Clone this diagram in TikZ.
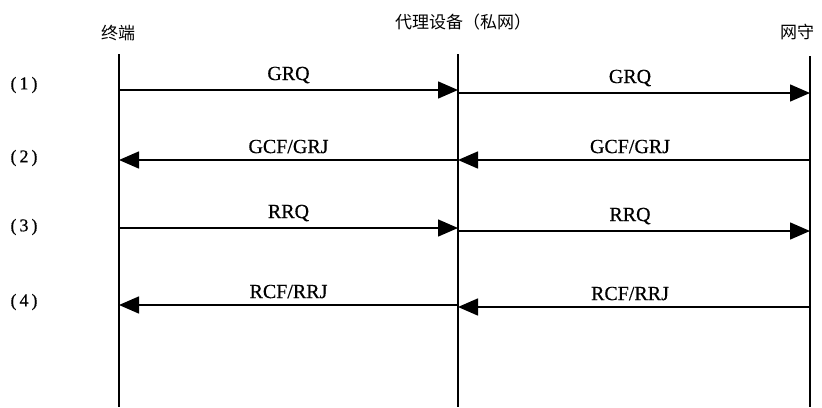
\documentclass[tikz,border=0pt]{standalone}
\usepackage{fontspec}
\setmainfont{Liberation Serif}[FakeBold=0.5,BoldFont={Liberation Serif}]
\newfontfamily\cjk{Noto Sans CJK SC}
\usetikzlibrary{arrows.meta}
\begin{document}
\begin{tikzpicture}[x=1pt,y=-1pt,
  life/.style={line width=1.5pt},
  msg/.style={line width=1.5pt,-{Triangle[length=20pt,width=17pt]}},
  lbl/.style={above=5pt,font=\bfseries\fontsize{20}{22}\selectfont,inner sep=1pt},
  hdr/.style={font=\cjk\fontsize{17}{19}\selectfont,inner sep=0pt},
  stepnum/.style={font=\bfseries\fontsize{18}{20}\selectfont,inner sep=0pt}]
\useasboundingbox (0,0) rectangle (822,407);
% headers
\node[hdr] (hA) at (118,33) {终端};
\node[hdr] (hB) at (463,22) {代理设备（私网）};
\node[hdr] (hC) at (797,32) {网守};
% lifelines
\coordinate (At) at (119,54); \coordinate (Ab) at (119,407);
\coordinate (Bt) at (458,54); \coordinate (Bb) at (458,407);
\coordinate (Ct) at (810,56); \coordinate (Cb) at (810,407);
\draw[life] (At) -- (Ab);
\draw[life] (Bt) -- (Bb);
\draw[life] (Ct) -- (Cb);
% step numbers
\node[stepnum] (s1) at (24,85) {(\,1\,)};
\node[stepnum] (s2) at (24,158) {(\,2\,)};
\node[stepnum] (s3) at (24,227) {(\,3\,)};
\node[stepnum] (s4) at (24,302) {(\,4\,)};
% message endpoints
\coordinate (A1) at (119,90);  \coordinate (B1l) at (458,90);
\coordinate (B1r) at (458,93); \coordinate (C1) at (810,93);
\coordinate (A2) at (119,160); \coordinate (B2) at (458,160);
\coordinate (C2) at (810,160);
\coordinate (A3) at (119,228); \coordinate (B3l) at (458,228);
\coordinate (B3r) at (458,231); \coordinate (C3) at (810,231);
\coordinate (A4) at (119,305); \coordinate (B4l) at (458,305);
\coordinate (B4r) at (458,307); \coordinate (C4) at (810,307);
% messages
\draw[msg] (A1) -- node[lbl] (m1a) {GRQ} (B1l);
\draw[msg] (B1r) -- node[lbl,xshift=-4pt] (m1b) {GRQ} (C1);
\draw[msg] (B2) -- node[lbl] (m2a) {GCF/GRJ} (A2);
\draw[msg] (C2) -- node[lbl,xshift=-4pt] (m2b) {GCF/GRJ} (B2);
\draw[msg] (A3) -- node[lbl] (m3a) {RRQ} (B3l);
\draw[msg] (B3r) -- node[lbl,xshift=-4pt] (m3b) {RRQ} (C3);
\draw[msg] (B4l) -- node[lbl] (m4a) {RCF/RRJ} (A4);
\draw[msg] (C4) -- node[lbl,xshift=-4pt] (m4b) {RCF/RRJ} (B4r);
\end{tikzpicture}
\end{document}
